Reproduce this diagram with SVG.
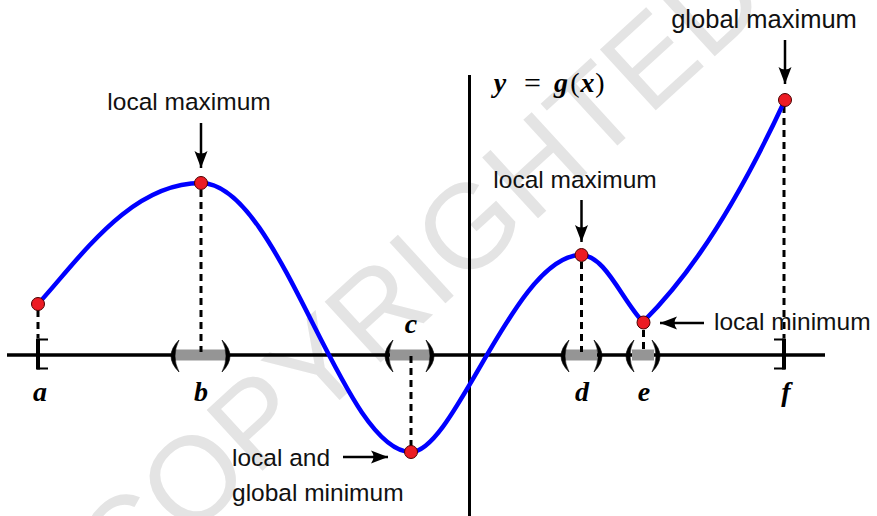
<svg xmlns="http://www.w3.org/2000/svg" width="877" height="516" viewBox="0 0 877 516">
<defs>
<marker id="ah" markerUnits="userSpaceOnUse" markerWidth="20" markerHeight="16" viewBox="-18 -8 20 16" refX="0" refY="0" orient="auto">
<path d="M0,0 L-17,-6.5 Q-12,0 -17,6.5 Z" fill="#000"/>
</marker>
</defs>
<style>
.wm{font-family:"Liberation Sans",Arial,sans-serif;font-size:120px;fill:#e4e4e4}
.lbl{font-family:"Liberation Sans",Arial,sans-serif;font-size:24.5px;fill:#111}
.math{font-family:"Liberation Serif","Times New Roman",serif;font-style:italic;font-weight:bold;font-size:28px;fill:#000;text-anchor:middle}
.axis{stroke:#000;stroke-width:3.5;fill:none}
.dash{stroke:#000;stroke-width:3;stroke-dasharray:7,5;fill:none}
.curve{stroke:#0000ff;stroke-width:4.5;fill:none;stroke-linejoin:round}
.dot{fill:#ec1c24;stroke:#4a0000;stroke-width:1}
.arr{stroke:#000;stroke-width:2.5;fill:none;marker-end:url(#ah)}
.bar{fill:#959595}
.par{fill:#000;stroke:#000;stroke-width:0.6}
.brk{stroke:#000;fill:none}
</style>
<g id="watermark" transform="translate(418,270) rotate(-42.5)">
<text class="wm" x="0" y="43" text-anchor="middle">COPYRIGHTED</text>
</g>
<g id="axes">
<line class="axis" x1="7" y1="355" x2="825" y2="355"/>
<line class="axis" x1="469.5" y1="75" x2="469.5" y2="516" style="stroke-width:3"/>
</g>
<g id="intervals">
<rect class="bar" x="175" y="349.5" width="52" height="11"/>
<rect class="bar" x="390" y="349.5" width="40" height="11"/>
<rect class="bar" x="565" y="349.5" width="32" height="11"/>
<rect class="bar" x="632" y="349.5" width="22" height="11"/>
<path class="par" d="M179,340 Q163,356 179,372 Q171,356 179,340 Z"/>
<path class="par" d="M222,340 Q238,356 222,372 Q230,356 222,340 Z"/>
<path class="par" d="M393,340 Q377,356 393,372 Q385,356 393,340 Z"/>
<path class="par" d="M426,340 Q442,356 426,372 Q434,356 426,340 Z"/>
<path class="par" d="M569,340 Q553,356 569,372 Q561,356 569,340 Z"/>
<path class="par" d="M594,340 Q610,356 594,372 Q602,356 594,340 Z"/>
<path class="par" d="M634,340 Q618,356 634,372 Q626,356 634,340 Z"/>
<path class="par" d="M652,340 Q668,356 652,372 Q660,356 652,340 Z"/>
<path class="brk" d="M48,339.5 H38 V368.5 H48" style="stroke-width:2"/>
<line class="brk" x1="38" y1="338.5" x2="38" y2="369.5" style="stroke-width:4"/>
<path class="brk" d="M774,339.5 H784 V368.5 H774" style="stroke-width:2"/>
<line class="brk" x1="784" y1="338.5" x2="784" y2="369.5" style="stroke-width:4"/>
</g>
<g id="dropLines">
<line class="dash" x1="38" y1="310" x2="38" y2="338"/>
<line class="dash" x1="201" y1="190" x2="201" y2="352"/>
<line class="dash" x1="411" y1="356" x2="411" y2="446"/>
<line class="dash" x1="581.5" y1="262" x2="581.5" y2="352"/>
<line class="dash" x1="643.5" y1="330" x2="643.5" y2="352"/>
<line class="dash" x1="784" y1="106" x2="784" y2="338"/>
</g>
<g id="curve">
<path class="curve" d="M38,304 C80,258 130,183 201,183 C280,183 342,452 411,452 C455,452 515,255 581,255 C605,255 622,300 643,322 C670,295 720,240 785,100"/>
</g>
<g id="points">
<circle class="dot" cx="38" cy="304" r="6.5"/>
<circle class="dot" cx="201" cy="183" r="6.5"/>
<circle class="dot" cx="411" cy="452" r="6.5"/>
<circle class="dot" cx="581.5" cy="255" r="6.5"/>
<circle class="dot" cx="643.5" cy="322.5" r="6.5"/>
<circle class="dot" cx="785" cy="100" r="6.5"/>
</g>
<g id="axisLabels">
<text class="math" x="40" y="401">a</text>
<text class="math" x="201" y="401">b</text>
<text class="math" x="411" y="333">c</text>
<text class="math" x="582" y="401">d</text>
<text class="math" x="644" y="401">e</text>
<text class="math" x="786" y="401">f</text>
</g>
<g id="funcLabel">
<text class="math" x="500" y="92">y</text>
<text class="math" x="532.5" y="93" style="font-style:normal;font-weight:normal;font-size:30px">=</text>
<text class="math" x="561" y="92">g</text>
<text class="math" x="575" y="92" style="font-style:normal;font-weight:normal">(</text>
<text class="math" x="587.5" y="92">x</text>
<text class="math" x="600" y="92" style="font-style:normal;font-weight:normal">)</text>
</g>
<g id="labelLocalMax1">
<text class="lbl" x="189" y="110" text-anchor="middle">local maximum</text>
</g>
<g id="labelLocalMax2">
<text class="lbl" x="575" y="188" text-anchor="middle">local maximum</text>
</g>
<g id="labelGlobalMax">
<text class="lbl" x="764" y="28" text-anchor="middle" style="font-size:25.5px">global maximum</text>
</g>
<g id="labelLocalMin">
<text class="lbl" x="714" y="330">local minimum</text>
</g>
<g id="labelGlobalMin">
<text class="lbl" x="232" y="466">local and</text>
<text class="lbl" x="232" y="501">global minimum</text>
</g>
<g id="connectors">
<line class="arr" x1="201" y1="123" x2="201" y2="168"/>
<line class="arr" x1="581.5" y1="200" x2="581.5" y2="242"/>
<line class="arr" x1="785" y1="40" x2="785" y2="84"/>
<line class="arr" x1="704" y1="323" x2="660" y2="323"/>
<line class="arr" x1="343" y1="457" x2="388" y2="457"/>
</g>
</svg>
